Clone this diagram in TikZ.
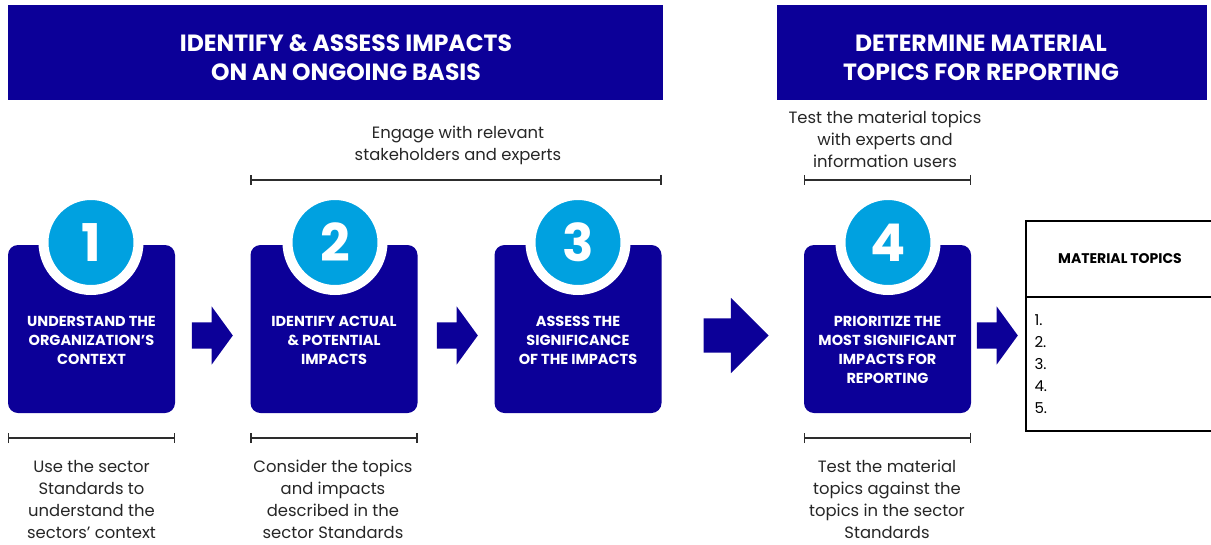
\documentclass[tikz,border=0pt]{standalone}
\usepackage{fontspec}
\setmainfont{Poppins}
\usepackage{xcolor}
\usetikzlibrary{arrows.meta}
\usetikzlibrary{shapes.arrows}
\usetikzlibrary{positioning}

\definecolor{griblue}{RGB}{12,0,152}
\definecolor{numblue}{RGB}{0,161,224}
\definecolor{spangray}{RGB}{45,45,45}

\tikzset{
  header/.style={fill=griblue, minimum height=95, inner sep=0},
  headtext/.style={text=white, align=center, font=\bfseries\fontsize{23.5}{29}\selectfont},
  stepbox/.style={fill=griblue, rounded corners=10, minimum width=167, minimum height=168, inner sep=0},
  steptext/.style={text=white, align=center, font=\bfseries\fontsize{14.5}{19}\selectfont},
  stepnum/.style={circle, fill=numblue, draw=white, line width=10, minimum size=95, inner sep=0,
    text=white, font=\bfseries\fontsize{52}{52}\selectfont},
  flow/.style={single arrow, fill=griblue, inner xsep=0, inner ysep=13, minimum height=41,
    single arrow head extend=16, single arrow tip angle=108},
  span/.style={draw=spangray, line width=1.5, {Bar[width=10]}-{Bar[width=10]}},
  note/.style={text=black!85, align=center, font=\fontsize{16.4}{22}\selectfont},
}

\begin{document}
\begin{tikzpicture}[x=1pt, y=-1pt]
    \useasboundingbox (0,0) rectangle (1211,544);

    % headers
    \node[header, minimum width=655] (h1) at (335.5,52.5) {};
    \node[header, minimum width=430] (h2) at (992,52.5) {};
    \node[headtext] (h1t) at (346,58) {IDENTIFY \& ASSESS IMPACTS\\ON AN ONGOING BASIS};
    \node[headtext] (h2t) at (981,58) {DETERMINE MATERIAL\\TOPICS FOR REPORTING};

    % steps
    \begin{scope}[every node/.style={stepbox}]
    \node (b1) at (91.5,329) {};
    \node (b2) at (334,329) {};
    \node (b3) at (578,329) {};
    \node (b4) at (887.5,329) {};
    \end{scope}
    \begin{scope}[every node/.style={stepnum}]
    \node (c1) at (91,242.5) {1};
    \node (c2) at (335,242.5) {2};
    \node (c3) at (578,242.5) {3};
    \node (c4) at (888,242.5) {4};
    \end{scope}
    \begin{scope}[every node/.style={steptext}]
    \node (t1) at (91.5,340) {UNDERSTAND THE\\ORGANIZATION'S\\CONTEXT};
    \node (t2) at (334,340) {IDENTIFY ACTUAL\\\& POTENTIAL\\IMPACTS};
    \node (t3) at (578,340) {ASSESS THE\\SIGNIFICANCE\\OF THE IMPACTS};
    \node (t4) at (887.5,350) {PRIORITIZE THE\\MOST SIGNIFICANT\\IMPACTS FOR\\REPORTING};
    \end{scope}

    % block arrows
    \node[flow] (a1) at (207.5,335.5) {};
    \node[flow] (a2) at (452.5,335.5) {};
    \node[flow, minimum height=65, inner ysep=17, single arrow head extend=20.5,
      single arrow tip angle=90] (a3) at (727.5,335.5) {};
    \node[flow] (a4) at (992.5,335.5) {};

    % material topics table
    \node[draw, line width=1.2, minimum width=190, minimum height=210, inner sep=0] (tbl) at (1121,326) {};
    \draw[line width=1.2] (tbl.west |- 0,297) -- (tbl.east |- 0,297);
    \node[font=\bfseries\fontsize{14}{16}\selectfont] (tt) at (1120,259) {MATERIAL TOPICS};
    \node[anchor=west, align=left, font=\fontsize{15}{22}\selectfont] (tl) at (1031,364) {1.\\2.\\3.\\4.\\5.};

    % spans and notes
    \draw[span] ([yshift=65]b2.north west) -- ([yshift=65]b3.north east);
    \draw[span] ([yshift=65]b4.north west) -- ([yshift=65]b4.north east);
    \draw[span] ([yshift=-25]b1.south west) -- ([yshift=-25]b1.south east);
    \draw[span] ([yshift=-25]b2.south west) -- ([yshift=-25]b2.south east);
    \draw[span] ([yshift=-25]b4.south west) -- ([yshift=-25]b4.south east);
    \begin{scope}[every node/.style={note}]
    \node (n23) at (458,145.5) {Engage with relevant\\stakeholders and experts};
    \node (n4t) at (885,139.5) {Test the material topics\\with experts and\\information users};
    \node (n1) at (91.5,499) {Use the sector\\Standards to\\understand the\\sectors’ context};
    \node (n2) at (333,499) {Consider the topics\\and impacts\\described in the\\sector Standards};
    \node (n4) at (887,499) {Test the material\\topics against the\\topics in the sector\\Standards};
    \end{scope}
\end{tikzpicture}
\end{document}
